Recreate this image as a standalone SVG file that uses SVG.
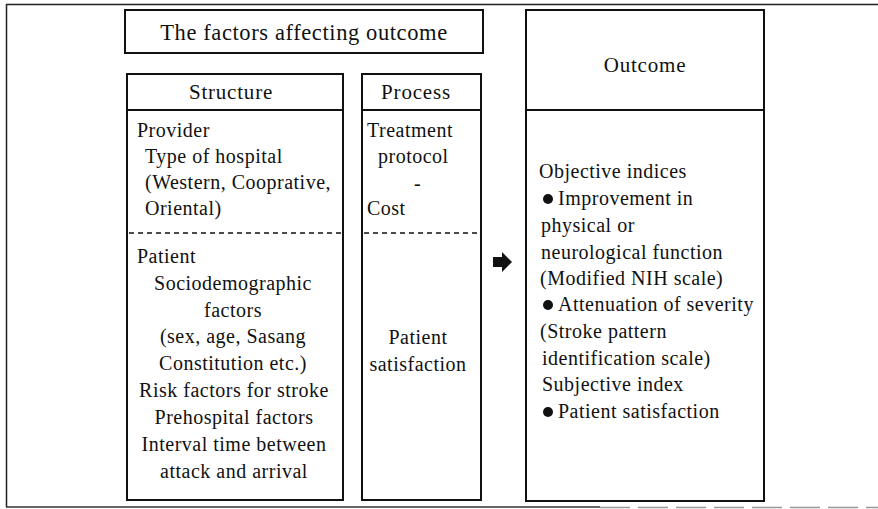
<svg xmlns="http://www.w3.org/2000/svg" width="878" height="509" viewBox="0 0 878 509">
<style>
.box{fill:#fff;stroke:#111;stroke-width:2}
.sep{stroke:#111;stroke-width:2;fill:none}
.dash{stroke:#111;stroke-width:1.5;stroke-dasharray:5 4;fill:none}
text{fill:#111}
.t{font-size:20px;letter-spacing:0.5px}
.h{font-size:21px;letter-spacing:0.8px;text-anchor:middle}
.ttl{font-size:22.5px;letter-spacing:0.6px;text-anchor:middle}
.c{text-anchor:middle}
</style>
<rect width="878" height="509" fill="#fff"/>
<g id="frame">
<line x1="6" y1="4.5" x2="878" y2="4.5" stroke="#222" stroke-width="1.5"/>
<line x1="6.5" y1="4" x2="6.5" y2="507" stroke="#222" stroke-width="1.5"/>
<line x1="6" y1="507" x2="600" y2="507" stroke="#333" stroke-width="1.5"/>
<line x1="600" y1="507.5" x2="878" y2="507.5" stroke="#999" stroke-width="1.5" stroke-dasharray="30 8"/>
</g>
<g font-family="Liberation Serif, DejaVu Serif, Times New Roman, serif">
<g id="title">
<rect class="box" x="125" y="10" width="358" height="43"/>
<text class="ttl" x="304" y="39.5">The factors affecting outcome</text>
</g>
<g id="structure">
<rect class="box" x="127" y="74" width="216" height="426"/>
<line class="sep" x1="127" y1="110" x2="343" y2="110"/>
<line class="dash" x1="129" y1="233" x2="342" y2="233"/>
<text class="h" x="231" y="99">Structure</text>
<text class="t" x="137" y="137">Provider</text>
<text class="t" x="145" y="163">Type of hospital</text>
<text class="t" x="145" y="189">(Western, Cooprative,</text>
<text class="t" x="145" y="215">Oriental)</text>
<text class="t" x="137" y="263">Patient</text>
<g class="c">
<text class="t" x="233" y="290">Sociodemographic</text>
<text class="t" x="233" y="316.5">factors</text>
<text class="t" x="233" y="343">(sex, age, Sasang</text>
<text class="t" x="233" y="370">Constitution etc.)</text>
<text class="t" x="234" y="397">Risk factors for stroke</text>
<text class="t" x="234" y="424">Prehospital factors</text>
<text class="t" x="234" y="451">Interval time between</text>
<text class="t" x="234" y="478">attack and arrival</text>
</g>
</g>
<g id="process">
<rect class="box" x="362" y="74" width="119" height="426"/>
<line class="sep" x1="362" y1="110" x2="481" y2="110"/>
<line class="dash" x1="364" y1="233" x2="480" y2="233"/>
<text class="h" x="416" y="99">Process</text>
<text class="t" x="367" y="137">Treatment</text>
<text class="t" x="378" y="163">protocol</text>
<text class="t" x="414" y="190">-</text>
<text class="t" x="367" y="215">Cost</text>
<text class="t c" x="418" y="344">Patient</text>
<text class="t c" x="418" y="371">satisfaction</text>
</g>
<g id="outcome">
<rect class="box" x="526" y="10" width="238" height="491"/>
<line class="sep" x1="526" y1="110" x2="764" y2="110"/>
<text class="h" x="645" y="72">Outcome</text>
<text class="t" x="539" y="178">Objective indices</text>
<circle cx="548" cy="199" r="5" fill="#111"/>
<text class="t" x="558" y="205">Improvement in</text>
<text class="t" x="541" y="232">physical or</text>
<text class="t" x="541" y="259">neurological function</text>
<text class="t" x="540" y="285">(Modified NIH scale)</text>
<circle cx="548" cy="305" r="5" fill="#111"/>
<text class="t" x="558" y="311">Attenuation of severity</text>
<text class="t" x="540" y="338">(Stroke pattern</text>
<text class="t" x="542" y="365">identification scale)</text>
<text class="t" x="542" y="391">Subjective index</text>
<circle cx="548" cy="412" r="5" fill="#111"/>
<text class="t" x="558" y="418">Patient satisfaction</text>
</g>
</g>
<g id="connectors">
<polygon points="493,257 502,257 502,252 512,262 502,272 502,267 493,267" fill="#111"/>
</g>
</svg>
